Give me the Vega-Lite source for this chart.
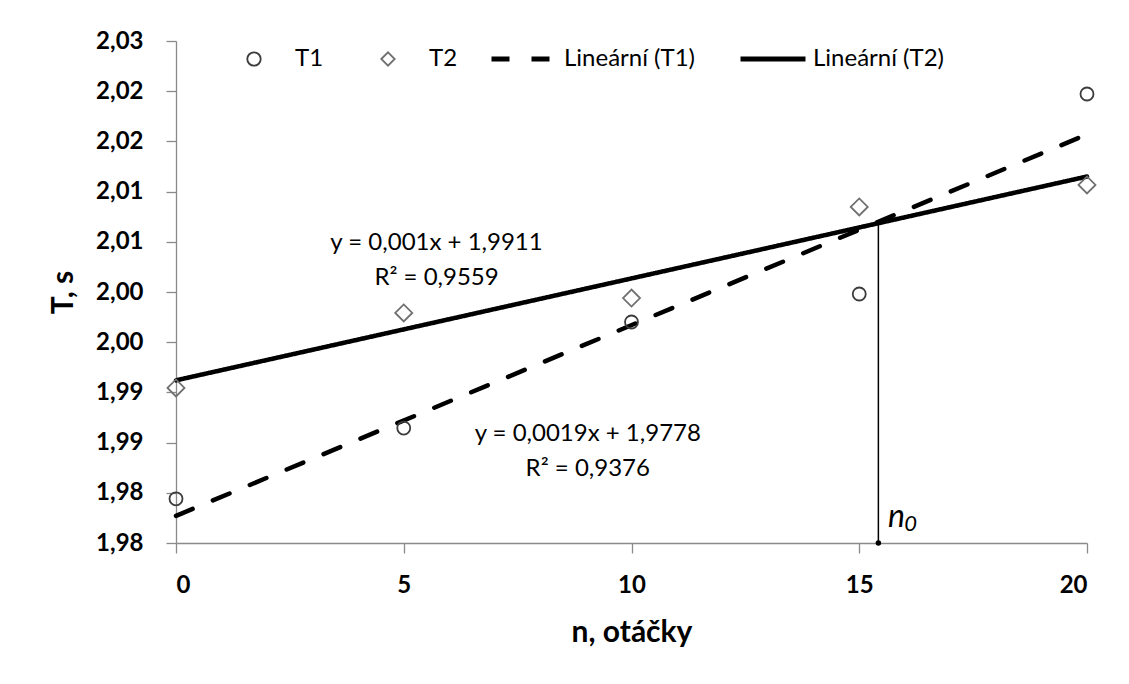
{
  "$schema": "https://vega.github.io/schema/vega-lite/v6.json",
  "width": 911,
  "height": 502,
  "autosize": "none",
  "padding": {"left": 176, "top": 41, "right": 42, "bottom": 141},
  "background": "white",
  "config": {
    "view": {"stroke": null},
    "font": "Lato",
    "axis": {
      "domainColor": "#8a8a8a",
      "domainWidth": 1.3,
      "tickColor": "#8a8a8a",
      "tickWidth": 1.3,
      "tickSize": 10,
      "grid": false,
      "labelFont": "Lato",
      "labelFontWeight": "bold",
      "labelFontSize": 24,
      "labelColor": "#000000",
      "titleFont": "Lato",
      "titleFontWeight": "bold",
      "titleFontSize": 30,
      "titleColor": "#000000"
    }
  },
  "datasets": {
    "pts": [
      {"n": 0, "T": 1.9794, "series": "T1"},
      {"n": 5, "T": 1.98645, "series": "T1"},
      {"n": 10, "T": 1.99701, "series": "T1"},
      {"n": 15, "T": 1.9998, "series": "T1"},
      {"n": 20, "T": 2.01972, "series": "T1"},
      {"n": 0, "T": 1.99044, "series": "T2"},
      {"n": 5, "T": 1.99791, "series": "T2"},
      {"n": 10, "T": 1.9994, "series": "T2"},
      {"n": 15, "T": 2.00847, "series": "T2"},
      {"n": 20, "T": 2.01066, "series": "T2"}
    ],
    "trend": [
      {"n": 0, "T": 1.9777, "trendline": "Lineární (T1)"},
      {"n": 20, "T": 2.0157, "trendline": "Lineární (T1)"},
      {"n": 0, "T": 1.9912, "trendline": "Lineární (T2)"},
      {"n": 20, "T": 2.0115, "trendline": "Lineární (T2)"}
    ],
    "n0": [
      {"n": 15.42, "Tlow": 1.975, "Thigh": 2.0069}
    ],
    "eq": [
      {"n": 5.72, "T": 2.00488, "label": "y = 0,001x + 1,9911\nR² = 0,9559"},
      {"n": 9.04, "T": 1.98586, "label": "y = 0,0019x + 1,9778\nR² = 0,9376"}
    ],
    "n0big": [
      {"n": 15.63, "T": 1.9766, "label": "n"}
    ],
    "n0small": [
      {"n": 15.99, "T": 1.9762, "label": "0"}
    ]
  },
  "layer": [
    {
      "data": {"name": "trend"},
      "mark": {"type": "line", "strokeWidth": 4.5, "color": "#000000", "strokeCap": "round"},
      "encoding": {
        "x": {
          "field": "n", "type": "quantitative",
          "scale": {"domain": [0, 20], "nice": false, "zero": false},
          "axis": {"values": [0, 5, 10, 15, 20], "format": "d", "title": "n, otáčky", "labelPadding": 20, "titlePadding": 20}
        },
        "y": {
          "field": "T", "type": "quantitative",
          "scale": {"domain": [1.975, 2.025], "nice": false, "zero": false},
          "axis": {
            "values": [1.975, 1.98, 1.985, 1.99, 1.995, 2.0, 2.005, 2.01, 2.015, 2.02, 2.025],
            "labelExpr": "replace(format(datum.value + 0.000001, '.2f'), '.', ',')",
            "title": "T, s",
            "labelPadding": 23,
            "titlePadding": 17
          }
        },
        "detail": {"field": "trendline"},
        "strokeDash": {
          "field": "trendline", "type": "nominal",
          "scale": {"domain": ["Lineární (T1)", "Lineární (T2)"], "range": [[18, 22], [1, 0]]},
          "legend": {
            "title": null,
            "orient": "none",
            "legendX": 313,
            "legendY": -17,
            "direction": "horizontal",
            "padding": 0,
            "columnPadding": 34,
            "labelOffset": 5,
            "labelFont": "Lato",
            "labelFontSize": 24,
            "labelColor": "#000000",
            "symbolType": "stroke",
            "symbolSize": 4225,
            "symbolStrokeWidth": 5,
            "symbolStrokeColor": "#000000"
          }
        }
      }
    },
    {
      "data": {"name": "n0"},
      "mark": {"type": "rule", "color": "#000000", "strokeWidth": 1.5},
      "encoding": {
        "x": {"field": "n", "type": "quantitative"},
        "y": {"field": "Tlow", "type": "quantitative"},
        "y2": {"field": "Thigh"}
      }
    },
    {
      "data": {"name": "n0"},
      "mark": {"type": "point", "filled": true, "color": "#000000", "size": 30, "opacity": 1},
      "encoding": {
        "x": {"field": "n", "type": "quantitative"},
        "y": {"field": "Tlow", "type": "quantitative"}
      }
    },
    {
      "data": {"name": "pts"},
      "mark": {"type": "point", "filled": false, "opacity": 1, "strokeWidth": 1.8},
      "encoding": {
        "x": {"field": "n", "type": "quantitative"},
        "y": {"field": "T", "type": "quantitative"},
        "shape": {
          "field": "series", "type": "nominal",
          "scale": {"domain": ["T1", "T2"], "range": ["circle", "diamond"]},
          "legend": {
            "title": null,
            "orient": "none",
            "legendX": 66,
            "legendY": 6,
            "direction": "horizontal",
            "padding": 0,
            "columnPadding": 52,
            "labelOffset": 29,
            "labelFont": "Lato",
            "labelFontSize": 24,
            "labelColor": "#000000",
            "symbolSize": 180,
            "symbolStrokeWidth": 1.8
          }
        },
        "stroke": {
          "field": "series", "type": "nominal",
          "scale": {"domain": ["T1", "T2"], "range": ["#3c3c3c", "#707070"]},
          "legend": {
            "title": null,
            "orient": "none",
            "legendX": 66,
            "legendY": 6,
            "direction": "horizontal",
            "padding": 0,
            "columnPadding": 52,
            "labelOffset": 29,
            "labelFont": "Lato",
            "labelFontSize": 24,
            "labelColor": "#000000",
            "symbolSize": 180,
            "symbolStrokeWidth": 1.8
          }
        },
        "size": {"condition": {"test": "datum.series === 'T1'", "value": 169}, "value": 289}
      }
    },
    {
      "data": {"name": "eq"},
      "mark": {"type": "text", "font": "Lato", "fontSize": 24, "color": "#000000", "align": "center", "baseline": "middle", "lineBreak": "\n", "lineHeight": 35},
      "encoding": {
        "x": {"field": "n", "type": "quantitative"},
        "y": {"field": "T", "type": "quantitative"},
        "text": {"field": "label"}
      }
    },
    {
      "data": {"name": "n0big"},
      "mark": {"type": "text", "font": "Lato", "fontStyle": "italic", "fontSize": 32, "color": "#000000", "align": "left", "baseline": "alphabetic"},
      "encoding": {
        "x": {"field": "n", "type": "quantitative"},
        "y": {"field": "T", "type": "quantitative"},
        "text": {"field": "label"}
      }
    },
    {
      "data": {"name": "n0small"},
      "mark": {"type": "text", "font": "Lato", "fontStyle": "italic", "fontSize": 22, "color": "#000000", "align": "left", "baseline": "alphabetic"},
      "encoding": {
        "x": {"field": "n", "type": "quantitative"},
        "y": {"field": "T", "type": "quantitative"},
        "text": {"field": "label"}
      }
    }
  ]
}
